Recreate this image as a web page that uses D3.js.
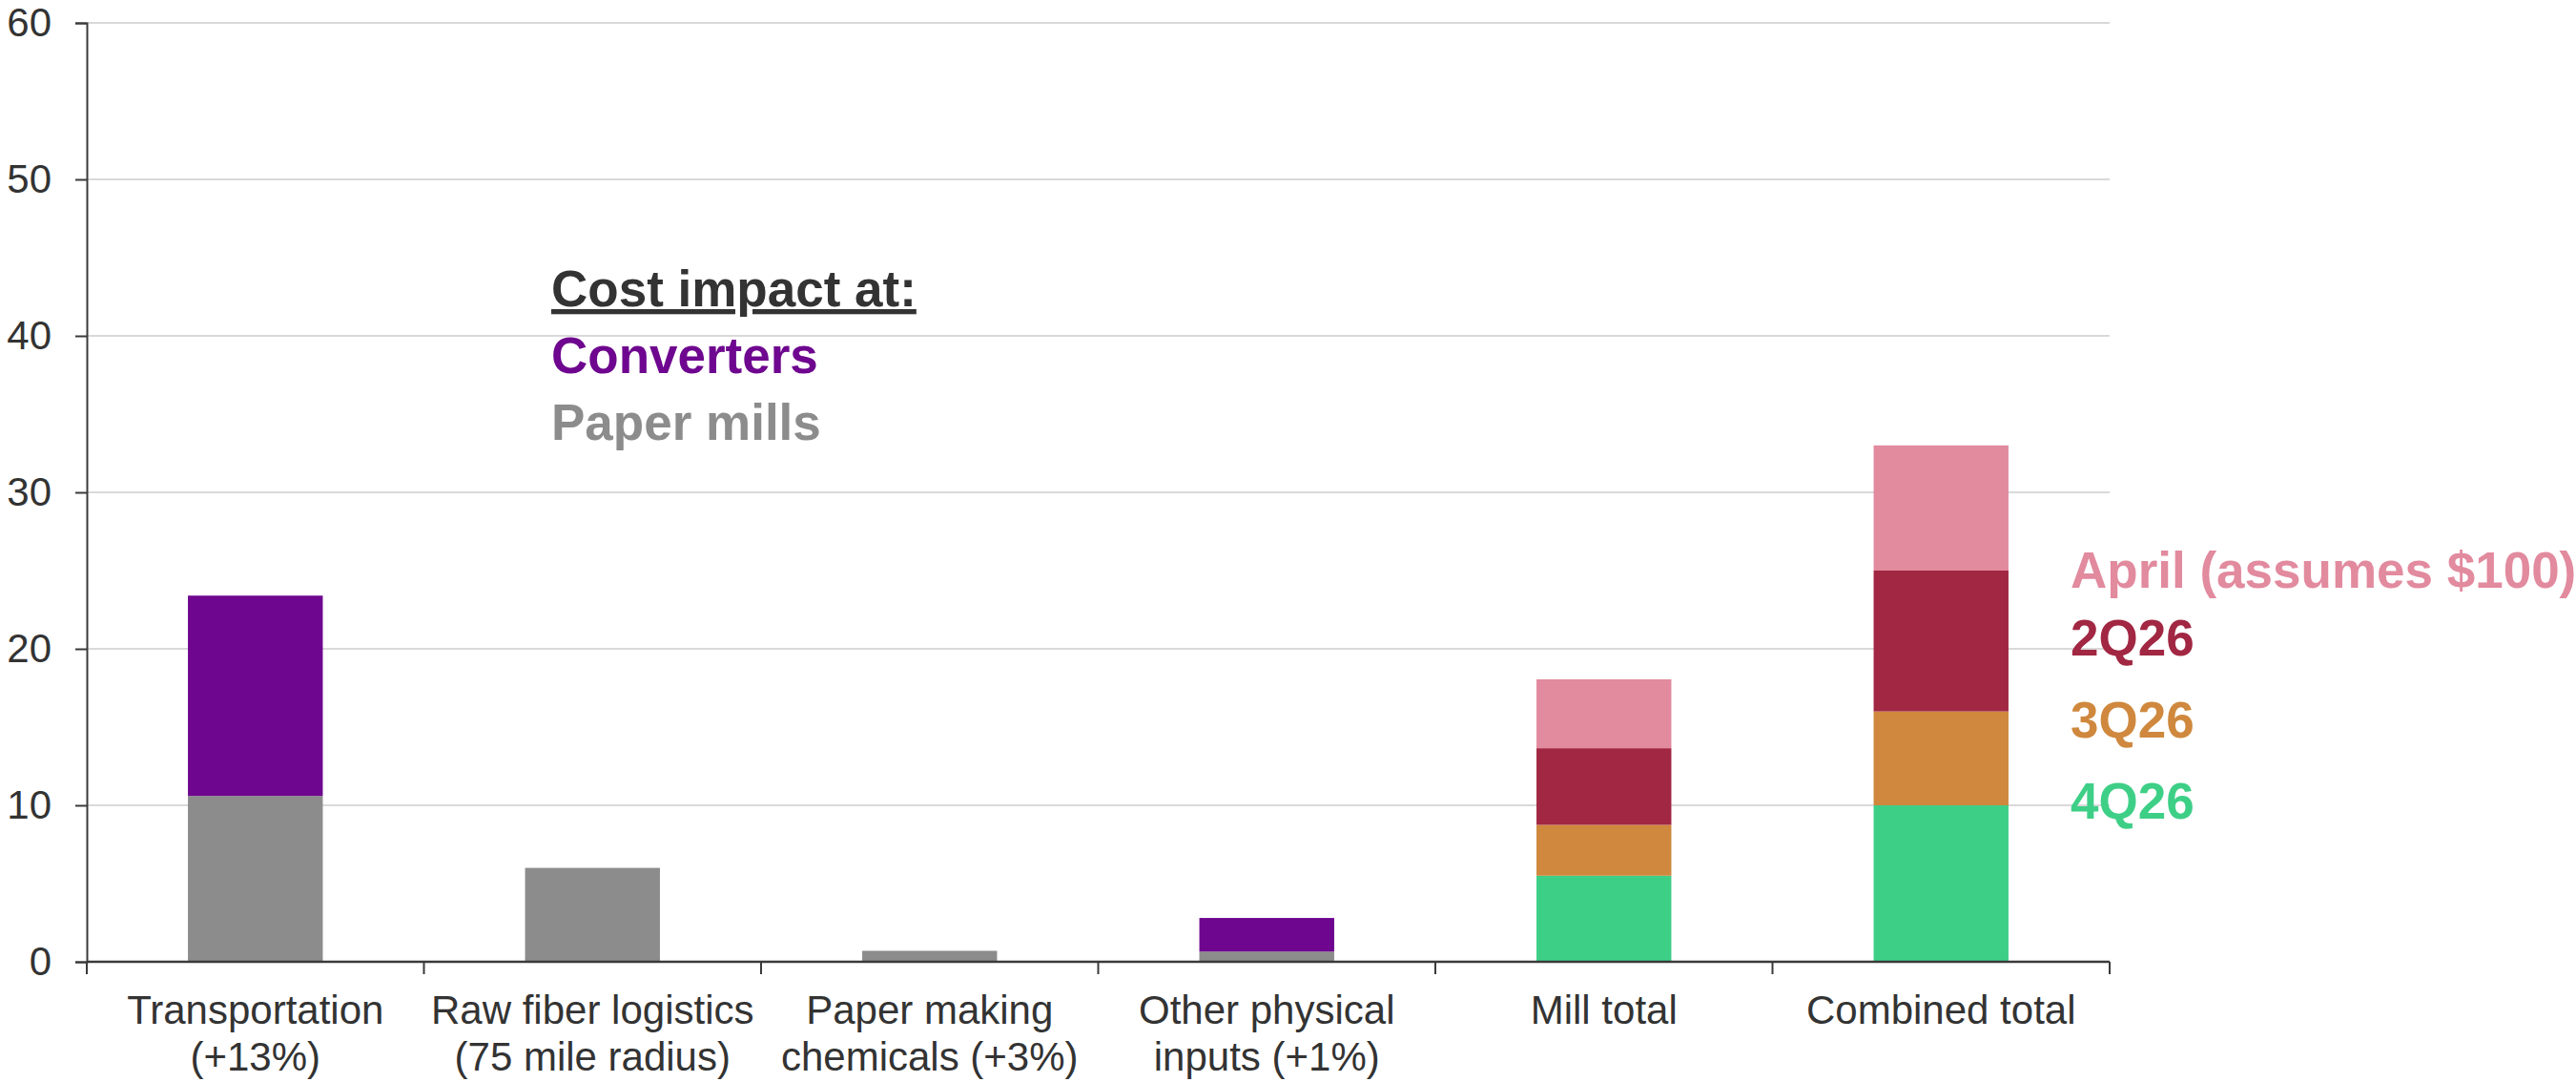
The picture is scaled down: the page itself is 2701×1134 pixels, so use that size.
<!DOCTYPE html>
<html>
<head>
<meta charset="utf-8">
<script src="https://cdn.jsdelivr.net/npm/d3@7"></script>
<style>
  body { margin: 0; background: #fff; }
  svg text { font-family: "Liberation Sans", Arial, sans-serif; }
</style>
</head>
<body>
<div id="chart"></div>
<script>
// categories (multi-line labels)
var categories = [
  ["Transportation", "(+13%)"],
  ["Raw fiber logistics", "(75 mile radius)"],
  ["Paper making", "chemicals (+3%)"],
  ["Other physical", "inputs (+1%)"],
  ["Mill total"],
  ["Combined total"]
];

// series values, stacked bottom to top
var paperMills = [10.6, 6.0, 0.7, 0.65, 0, 0];
var converters = [12.8, 0, 0, 2.15, 0, 0];
var q4_26     = [0, 0, 0, 0, 5.5, 10];
var q3_26     = [0, 0, 0, 0, 3.25, 6];
var q2_26     = [0, 0, 0, 0, 4.9, 9];
var april     = [0, 0, 0, 0, 4.4, 8];

var yTicks = [0, 10, 20, 30, 40, 50, 60];

var keys = ["Paper mills", "Converters", "4Q26", "3Q26", "2Q26", "April (assumes $100)"];
var colors = {
  "Paper mills": "#8c8c8c",
  "Converters": "#6e068f",
  "4Q26": "#3ecf87",
  "3Q26": "#cf883d",
  "2Q26": "#a12743",
  "April (assumes $100)": "#e28a9e"
};

var rows = categories.map(function(c, i) {
  return {
    cat: i,
    "Paper mills": paperMills[i],
    "Converters": converters[i],
    "4Q26": q4_26[i],
    "3Q26": q3_26[i],
    "2Q26": q2_26[i],
    "April (assumes $100)": april[i]
  };
});

var W = 2701, H = 1134;
var margin = {top: 24, right: 489, bottom: 126, left: 91};
var width = W - margin.left - margin.right,
    height = H - margin.top - margin.bottom;

var svg = d3.select("#chart").append("svg")
    .attr("width", W)
    .attr("height", H);

var g = svg.append("g")
    .attr("transform", "translate(" + margin.left + "," + margin.top + ")");

var x = d3.scaleBand()
    .domain(d3.range(categories.length))
    .range([0, width])
    .paddingInner(0.6)
    .paddingOuter(0.3);

var y = d3.scaleLinear().domain([0, 60]).range([height, 0]);

var step = x.step();
var textColor = "#333333";
var axisColor = "#3a3a3a";

// gridlines
g.selectAll(".grid")
    .data(yTicks.filter(function(t) { return t > 0; }))
  .enter().append("line")
    .attr("class", "grid")
    .attr("x1", 0)
    .attr("x2", width)
    .attr("y1", function(d) { return y(d); })
    .attr("y2", function(d) { return y(d); })
    .attr("stroke", "#d9d9d9")
    .attr("stroke-width", 2);

// stacked bars
var stacked = d3.stack().keys(keys)(rows);

g.selectAll(".layer")
    .data(stacked)
  .enter().append("g")
    .attr("class", "layer")
    .attr("fill", function(d) { return colors[d.key]; })
  .selectAll("rect")
    .data(function(d) { return d.filter(function(s) { return s[1] - s[0] > 0; }); })
  .enter().append("rect")
    .attr("x", function(d) { return x(d.data.cat); })
    .attr("width", x.bandwidth())
    .attr("y", function(d) { return y(d[1]); })
    .attr("height", function(d) { return y(d[0]) - y(d[1]); });

// y axis
var yAxis = g.append("g")
    .call(d3.axisLeft(y).tickValues(yTicks).tickSize(12).tickPadding(25));
yAxis.select(".domain").attr("stroke", axisColor).attr("stroke-width", 2);
yAxis.selectAll(".tick line").attr("stroke", axisColor).attr("stroke-width", 2);
yAxis.selectAll(".tick text")
    .attr("fill", textColor)
    .style("font-size", "42px");

// x axis: ticks between categories
var xAxis = g.append("g").attr("transform", "translate(0," + height + ")");
xAxis.append("line")
    .attr("x1", 0).attr("x2", width)
    .attr("stroke", axisColor).attr("stroke-width", 2.5);
xAxis.selectAll(".xtick")
    .data(d3.range(categories.length + 1))
  .enter().append("line")
    .attr("class", "xtick")
    .attr("x1", function(d) { return d * step; })
    .attr("x2", function(d) { return d * step; })
    .attr("y1", 0).attr("y2", 13)
    .attr("stroke", axisColor).attr("stroke-width", 2);

var labels = xAxis.selectAll(".xlabel")
    .data(categories)
  .enter().append("text")
    .attr("class", "xlabel")
    .attr("text-anchor", "middle")
    .attr("fill", textColor)
    .style("font-size", "42px");
labels.selectAll("tspan")
    .data(function(d, i) { return d.map(function(t) { return {t: t, i: i}; }); })
  .enter().append("tspan")
    .attr("x", function(d) { return x(d.i) + x.bandwidth() / 2; })
    .attr("y", function(d, j) { return 65 + j * 48.5; })
    .text(function(d) { return d.t; });

// left legend
var legend = svg.append("g").style("font-weight", "bold").style("font-size", "53px");
legend.append("text")
    .attr("x", 578).attr("y", 321)
    .attr("fill", textColor)
    .style("text-decoration", "underline")
    .text("Cost impact at:");
legend.append("text")
    .attr("x", 578).attr("y", 391)
    .attr("fill", colors["Converters"])
    .text("Converters");
legend.append("text")
    .attr("x", 578).attr("y", 461)
    .attr("fill", colors["Paper mills"])
    .text("Paper mills");

// right legend for the quarterly breakdown
var rightKeys = ["April (assumes $100)", "2Q26", "3Q26", "4Q26"];
var rightY = [616, 687, 773, 858];
legend.selectAll(".rlabel")
    .data(rightKeys)
  .enter().append("text")
    .attr("class", "rlabel")
    .attr("x", 2171)
    .attr("y", function(d, i) { return rightY[i]; })
    .attr("fill", function(d) { return colors[d]; })
    .text(function(d) { return d; });
</script>
</body>
</html>
